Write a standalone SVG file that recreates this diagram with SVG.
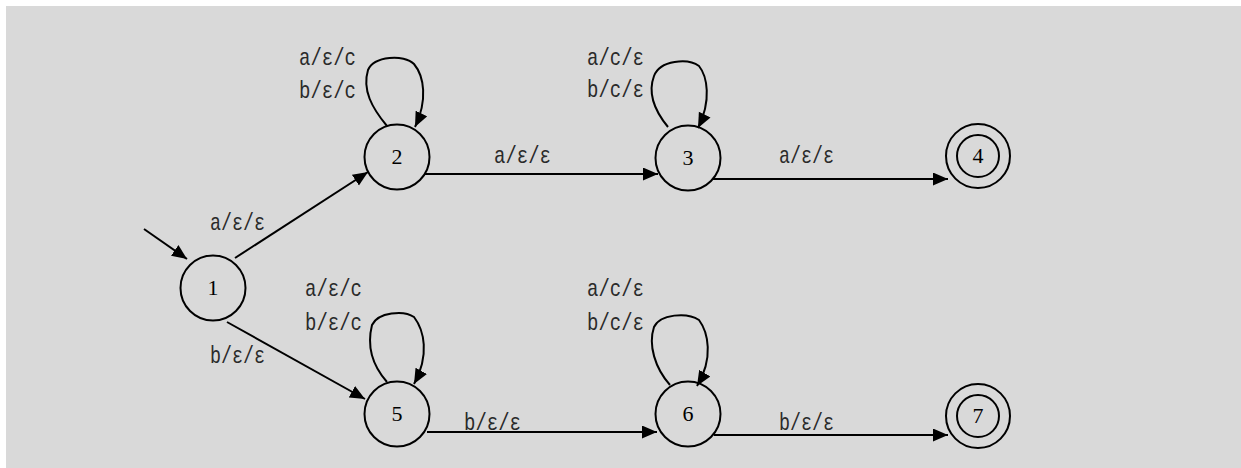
<svg xmlns="http://www.w3.org/2000/svg" width="1241" height="468" viewBox="0 0 1241 468">
  <style>
    .state { fill: none; stroke: #000; stroke-width: 2; }
    .num { font-family: "Liberation Serif", "Times New Roman", serif; font-size: 22px; fill: #000; text-anchor: middle; }
    .lbl { font-family: "Liberation Mono", "Courier New", monospace; font-size: 24px; fill: #2a2a2a; }
    .edge { fill: none; stroke: #000; stroke-width: 2; marker-end: url(#arrow); }
  </style>
  <defs>
    <marker id="arrow" markerUnits="userSpaceOnUse" markerWidth="16" markerHeight="14" refX="15" refY="6.5" orient="auto">
      <path d="M0,0 L15,6.5 L0,13 z" fill="#000"/>
    </marker>
  </defs>

  <rect x="6" y="6" width="1235" height="462" fill="#d9d9d9"/>

  <!-- transitions -->
  <g id="connectors">
    <path class="edge" d="M144,229 L187,259"/>
    <path class="edge" d="M235,258 L368,172"/>
    <path class="edge" d="M227,322 L365,399"/>
    <path class="edge" d="M425,174 L658,174"/>
    <path class="edge" d="M712,179 L948,179"/>
    <path class="edge" d="M427,432 L657,432"/>
    <path class="edge" d="M714,435 L948,435"/>
    <!-- self loops -->
    <path class="edge" d="M387,126 C372,108 362,90 368,70 C374,56 404,54 414,64 C424,76 428,100 415,127"/>
    <path class="edge" d="M668,127 C654,110 648,92 654,76 C660,60 688,58 699,66 C707,76 712,100 698,128"/>
    <path class="edge" d="M387,382 C372,365 367,345 372,325 C378,312 404,310 414,317 C424,330 430,355 414,384"/>
    <path class="edge" d="M670,385 C655,368 648,345 654,327 C660,314 687,312 699,320 C708,332 714,358 697,386"/>

    <text class="lbl" x="210" y="230" textLength="55" lengthAdjust="spacingAndGlyphs">a/ε/ε</text>
    <text class="lbl" x="210" y="363" textLength="55" lengthAdjust="spacingAndGlyphs">b/ε/ε</text>
    <text class="lbl" x="299" y="65" textLength="57" lengthAdjust="spacingAndGlyphs">a/ε/c</text>
    <text class="lbl" x="299" y="98" textLength="57" lengthAdjust="spacingAndGlyphs">b/ε/c</text>
    <text class="lbl" x="587" y="65" textLength="57" lengthAdjust="spacingAndGlyphs">a/c/ε</text>
    <text class="lbl" x="587" y="97" textLength="57" lengthAdjust="spacingAndGlyphs">b/c/ε</text>
    <text class="lbl" x="494" y="163" textLength="57" lengthAdjust="spacingAndGlyphs">a/ε/ε</text>
    <text class="lbl" x="779" y="163" textLength="55" lengthAdjust="spacingAndGlyphs">a/ε/ε</text>
    <text class="lbl" x="305" y="296" textLength="57" lengthAdjust="spacingAndGlyphs">a/ε/c</text>
    <text class="lbl" x="305" y="330" textLength="57" lengthAdjust="spacingAndGlyphs">b/ε/c</text>
    <text class="lbl" x="587" y="296" textLength="57" lengthAdjust="spacingAndGlyphs">a/c/ε</text>
    <text class="lbl" x="587" y="330" textLength="57" lengthAdjust="spacingAndGlyphs">b/c/ε</text>
    <text class="lbl" x="464" y="430" textLength="57" lengthAdjust="spacingAndGlyphs">b/ε/ε</text>
    <text class="lbl" x="779" y="430" textLength="55" lengthAdjust="spacingAndGlyphs">b/ε/ε</text>
  </g>

  <!-- states -->
  <g id="state-1"><circle class="state" cx="213" cy="288" r="32.5"/><text class="num" x="213" y="295">1</text></g>
  <g id="state-2"><circle class="state" cx="397" cy="157" r="32.5"/><text class="num" x="397" y="164">2</text></g>
  <g id="state-3"><circle class="state" cx="688" cy="158" r="32.5"/><text class="num" x="688" y="165">3</text></g>
  <g id="state-4"><circle class="state" cx="978" cy="156" r="32"/><circle class="state" cx="978" cy="156" r="21"/><text class="num" x="978" y="163">4</text></g>
  <g id="state-5"><circle class="state" cx="397" cy="414" r="32.5"/><text class="num" x="397" y="421">5</text></g>
  <g id="state-6"><circle class="state" cx="688" cy="414" r="32.5"/><text class="num" x="688" y="421">6</text></g>
  <g id="state-7"><circle class="state" cx="978" cy="416" r="32"/><circle class="state" cx="978" cy="416" r="21"/><text class="num" x="978" y="423">7</text></g>
</svg>
